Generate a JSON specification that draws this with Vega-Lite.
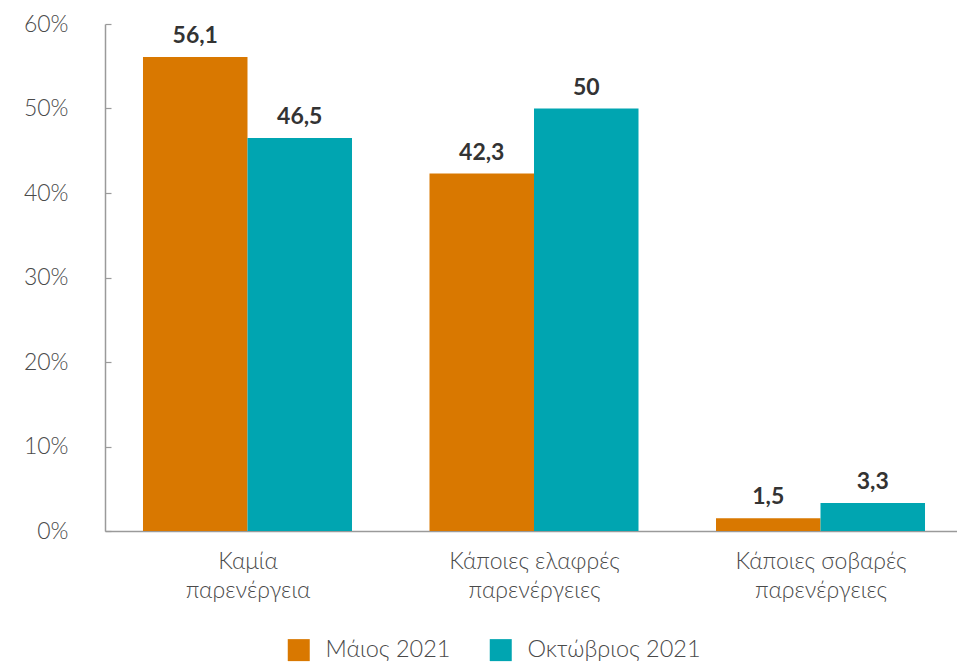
{
  "$schema": "https://vega.github.io/schema/vega-lite/v6.json",
  "width": 858,
  "height": 507,
  "autosize": {"type": "none"},
  "padding": {"left": 105, "top": 24, "right": 0, "bottom": 132},
  "background": "white",
  "config": {
    "view": {"stroke": null},
    "font": "Lato"
  },
  "data": {
    "values": [
      {"cat": "Καμία|παρενέργεια", "period": "Μάιος 2021", "value": 56.1, "label": "56,1"},
      {"cat": "Καμία|παρενέργεια", "period": "Οκτώβριος 2021", "value": 46.5, "label": "46,5"},
      {"cat": "Κάποιες ελαφρές|παρενέργειες", "period": "Μάιος 2021", "value": 42.3, "label": "42,3"},
      {"cat": "Κάποιες ελαφρές|παρενέργειες", "period": "Οκτώβριος 2021", "value": 50, "label": "50"},
      {"cat": "Κάποιες σοβαρές|παρενέργειες", "period": "Μάιος 2021", "value": 1.5, "label": "1,5"},
      {"cat": "Κάποιες σοβαρές|παρενέργειες", "period": "Οκτώβριος 2021", "value": 3.3, "label": "3,3"}
    ]
  },
  "encoding": {
    "x": {
      "field": "cat",
      "type": "nominal",
      "sort": null,
      "scale": {"paddingInner": 0.2705, "paddingOuter": 0.1326},
      "axis": {
        "title": null,
        "labelAngle": 0,
        "labelExpr": "split(datum.label, '|')",
        "labelFontSize": 23,
        "labelFontWeight": 300,
        "labelColor": "#4a4a4a",
        "labelLineHeight": 29,
        "labelPadding": 25,
        "labelOffset": 38.75,
        "domainColor": "#9a9a9a",
        "domainWidth": 1.5,
        "tickColor": "#9a9a9a",
        "tickSize": -6,
        "tickOffset": -38.75,
        "tickWidth": 1.2
      }
    },
    "xOffset": {"field": "period", "type": "nominal"},
    "y": {
      "field": "value",
      "type": "quantitative",
      "scale": {"domain": [0, 60], "nice": false},
      "axis": {
        "title": null,
        "values": [0, 10, 20, 30, 40, 50, 60],
        "labelExpr": "datum.value + '%'",
        "labelFontSize": 23,
        "labelFontWeight": 300,
        "labelColor": "#4a4a4a",
        "labelPadding": 43,
        "grid": false,
        "domainColor": "#9a9a9a",
        "domainWidth": 1.5,
        "tickColor": "#9a9a9a",
        "tickSize": -6,
        "tickWidth": 1.2
      }
    }
  },
  "layer": [
    {
      "mark": {"type": "bar"},
      "encoding": {
        "color": {
          "field": "period",
          "type": "nominal",
          "scale": {"domain": ["Μάιος 2021", "Οκτώβριος 2021"], "range": ["#D97800", "#00A5B1"]},
          "legend": {
            "title": null,
            "orient": "none",
            "direction": "horizontal",
            "legendX": 182,
            "legendY": 614,
            "symbolType": "square",
            "symbolSize": 484,
            "symbolStrokeWidth": 0,
            "symbolOpacity": 1,
            "labelFontSize": 23.5,
            "labelFontWeight": 300,
            "labelColor": "#4a4a4a",
            "labelOffset": 15,
            "labelLimit": 400,
            "columnPadding": 38
          }
        }
      }
    },
    {
      "mark": {"type": "text", "baseline": "bottom", "dy": -9, "fontSize": 23, "fontWeight": "bold", "color": "#333333"},
      "encoding": {
        "text": {"field": "label", "type": "nominal"}
      }
    }
  ]
}
